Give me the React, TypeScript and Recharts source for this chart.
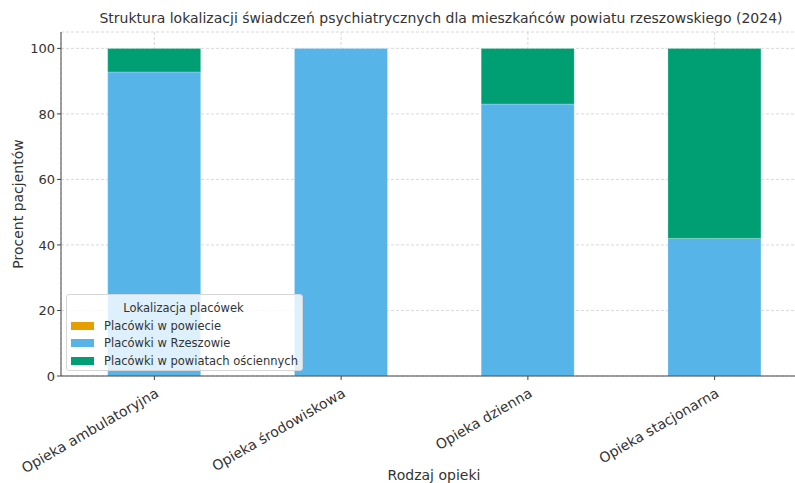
import React from 'react';
import { Bar, BarChart, CartesianGrid, XAxis, YAxis } from 'recharts';

const categories = ['Opieka ambulatoryjna', 'Opieka środowiskowa', 'Opieka dzienna', 'Opieka stacjonarna'];
const wPowiecie = [0, 0, 0, 0];
const wRzeszowie = [92.8, 100, 83, 42];
const wOsciennych = [7.2, 0, 17, 58];
const yTicks = [0, 20, 40, 60, 80, 100];

const SERIES = [
    { key: 'powiecie', name: 'Placówki w powiecie', color: '#E69F00' },
    { key: 'rzeszow', name: 'Placówki w Rzeszowie', color: '#56B4E9' },
    { key: 'osciennych', name: 'Placówki w powiatach ościennych', color: '#009E73' }
];

const data = categories.map((name, i) => ({
    name,
    powiecie: wPowiecie[i],
    rzeszow: wRzeszowie[i],
    osciennych: wOsciennych[i]
}));

const FONT = '"DejaVu Sans", sans-serif';
const TEXT = '#333333';

const XTick = (props: any) => {
    const { x, y, payload } = props;
    return (
        <text
            x={x}
            y={y + 5}
            transform={`rotate(-30 ${x} ${y + 5})`}
            textAnchor="end"
            dominantBaseline="hanging"
            fontSize={14}
            fontFamily={FONT}
            fill={TEXT}
        >
            {payload.value}
        </text>
    );
};

const LegendBox = () => (
    <div
        style={{
            position: 'absolute',
            left: 66,
            top: 294,
            width: 237,
            height: 77,
            background: 'rgba(255,255,255,0.8)',
            border: '1px solid #d6d6d6',
            borderRadius: 3,
            padding: '4px 6px 4px 4px',
            boxSizing: 'border-box',
            fontFamily: FONT,
            fontSize: 11.5,
            color: TEXT,
            whiteSpace: 'nowrap'
        }}
    >
        <div style={{ textAlign: 'center', lineHeight: '18px' }}>Lokalizacja placówek</div>
        {SERIES.map((s) => (
            <div key={s.key} style={{ display: 'flex', alignItems: 'center', height: 17.5 }}>
                <span style={{ display: 'inline-block', width: 23, height: 8, background: s.color, marginRight: 10, flex: 'none' }} />
                <span>{s.name}</span>
            </div>
        ))}
    </div>
);

export default function App() {
    return (
        <div style={{ position: 'fixed', left: 0, top: 0, width: 795, height: 483, overflow: 'hidden', background: '#fff' }}>
            <div style={{ position: 'absolute', left: 0, top: 0 }}>
                <BarChart
                    width={810}
                    height={483}
                    data={data}
                    margin={{ top: 32, right: 2, bottom: 7, left: 0 }}
                    barCategoryGap="25%"
                >
                    <XAxis
                        dataKey="name"
                        height={100}
                        tick={<XTick />}
                        tickLine={{ stroke: '#444' }}
                        tickSize={4}
                        axisLine={{ stroke: '#444' }}
                        interval={0}
                    />
                    <YAxis
                        width={61}
                        domain={[0, 105]}
                        ticks={yTicks}
                        tickSize={4}
                        tickLine={{ stroke: '#444' }}
                        axisLine={{ stroke: '#444' }}
                        tick={{ fontSize: 13, fontFamily: FONT, fill: TEXT }}
                    />
                    {SERIES.map((s) => (
                        <Bar
                            key={s.key}
                            dataKey={s.key}
                            name={s.name}
                            stackId="a"
                            fill={s.color}
                            stroke="#ffffff"
                            strokeOpacity={0.4}
                            strokeWidth={0.6}
                            isAnimationActive={false}
                        />
                    ))}
                    <CartesianGrid stroke="#c8c8c8" strokeDasharray="3 2" strokeWidth={0.7} />
                </BarChart>
            </div>
            <div
                style={{
                    position: 'absolute',
                    left: 0,
                    width: 882,
                    top: 10,
                    textAlign: 'center',
                    fontFamily: FONT,
                    fontSize: 14,
                    color: TEXT
                }}
            >
                Struktura lokalizacji świadczeń psychiatrycznych dla mieszkańców powiatu rzeszowskiego (2024)
            </div>
            <div
                style={{
                    position: 'absolute',
                    left: 18,
                    top: 204,
                    transform: 'translate(-50%, -50%) rotate(-90deg)',
                    whiteSpace: 'nowrap',
                    fontFamily: FONT,
                    fontSize: 14,
                    color: TEXT
                }}
            >
                Procent pacjentów
            </div>
            <div
                style={{
                    position: 'absolute',
                    left: 0,
                    width: 868,
                    top: 467,
                    textAlign: 'center',
                    fontFamily: FONT,
                    fontSize: 14,
                    color: TEXT
                }}
            >
                Rodzaj opieki
            </div>
            <LegendBox />
        </div>
    );
}
